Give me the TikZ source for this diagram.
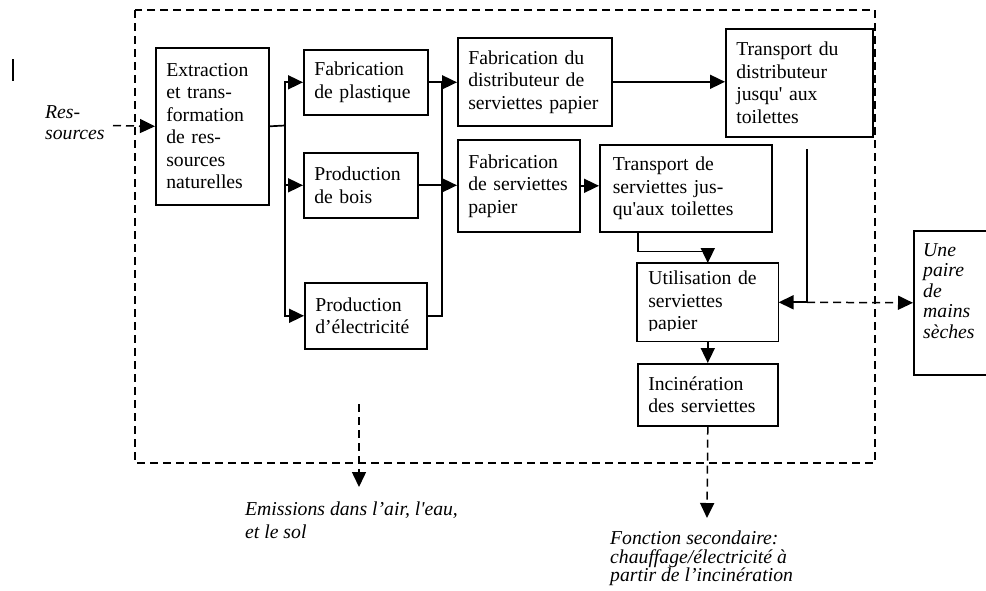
\documentclass[tikz,border=0pt]{standalone}
\usepackage{fontspec}
\newfontfamily\tnr{Liberation Serif}
\usetikzlibrary{arrows.meta}
\begin{document}
\begin{tikzpicture}[x=1pt,y=-1pt,
  every node/.style={font=\tnr\fontsize{19.7}{22.5}\selectfont},
  box/.style={draw, line width=1.6pt, anchor=north west, align=left, inner xsep=10.5pt, inner ysep=0pt},
  conn/.style={line width=1.7pt},
  arr/.style={conn, -{Triangle[length=15pt,width=14pt]}},
  dsh/.style={line width=1.5pt, dash pattern=on 8pt off 5pt},
  darr/.style={dsh, -{Triangle[length=15pt,width=14pt]}},
  lbl/.style={anchor=north west, align=left, inner sep=0pt, font=\tnr\itshape\fontsize{19.7}{23}\selectfont}]
\useasboundingbox (0,0) rectangle (986,590);
\clip (0,0) rectangle (986,590);

% boundary
\draw[dsh] (135,10) rectangle (875,463);
\draw[line width=1.8pt] (13,59) -- (13,81);

% boxes
\node[box, minimum width=113pt, minimum height=157pt, text width=92pt] (ext) at (155,47) {Extraction\\et~trans-\\formation\\de~res-\\sources\\naturelles};
\node[box, minimum width=124pt, minimum height=65pt, text width=103pt] (plast) at (303,49) {Fabrication\\de~plastique};
\node[box, minimum width=114pt, minimum height=65pt, text width=93pt] (bois) at (303,152) {Production\\de~bois};
\node[box, minimum width=122pt, minimum height=66pt, text width=101pt] (elec) at (304,282) {Production\\d’électricité};
\node[box, minimum width=154pt, minimum height=88pt, text width=133pt] (fdist) at (457,37) {Fabrication~du\\distributeur~de\\serviettes~papier};
\node[box, minimum width=122pt, minimum height=92pt, text width=101pt] (fserv) at (457,139) {Fabrication\\de~serviettes\\papier};
\node[box, minimum width=147pt, minimum height=108pt, text width=126pt] (tdist) at (725,28) {Transport~du\\distributeur\\jusqu'~aux\\toilettes};
\node[box, minimum width=172pt, minimum height=87pt, text width=146pt, inner xsep=13pt] (tserv) at (599,144) {Transport~de\\serviettes~jus-\\qu'aux~toilettes};
\begin{scope}
\clip (637,263) rectangle (777,330);
\node[box, draw=none, minimum width=140pt, minimum height=77pt, text width=119pt] (util) at (637,263) {Utilisation~de\\serviettes\\papier};
\end{scope}
\draw[line width=1.6pt] (util.north west) rectangle (util.south east);
\node[box, minimum width=140pt, minimum height=62pt, text width=119pt] (incin) at (637,363) {Incinération\\des~serviettes};
\node[draw, line width=1.6pt, anchor=north west, minimum width=100pt, minimum height=144pt, inner sep=0pt] (paire) at (913,230) {};
\node[lbl, font=\tnr\itshape\fontsize{19.7}{20.5}\selectfont] (pairetxt) at (923,243) {Une\\paire\\de\\mains\\sèches};

% connectors
\coordinate (b1) at (285,125.5);
\draw[conn] (ext.east) -- (b1);
\draw[arr] (b1) |- (plast.west);
\draw[arr] (b1) |- (elec.west);
\draw[arr] (b1 |- bois.west) -- (bois.west);

\coordinate (b2) at (442,0);
\draw[conn] (elec.east) -| (b2 |- plast.east);
\draw[arr] (plast.east) -- (plast.east -| fdist.west);
\draw[arr] (bois.east) -- (bois.east -| fserv.west);

\draw[arr] (fdist.east) -- (fdist.east -| tdist.west);
\draw[arr] (fserv.east) -- (fserv.east -| tserv.west);
\draw[arr] ([xshift=39pt]tserv.south west) -- ++(0,19) -| (util.north);
\coordinate (tdfree) at (807,149);
\draw[arr] (tdfree) |- (util.east);
\draw[darr] (tdfree |- util.east) -- (paire.west);
\draw[arr] (util.south) -- (incin.north);

% outputs
\coordinate (fsec) at (707,518);
\draw[darr] (incin.south) -- (fsec);
\node[lbl, font=\tnr\itshape\fontsize{19.7}{18.5}\selectfont] (fonct) at (610,531) {Fonction secondaire:\\chauffage/électricité à\\partir de l’incinération};

\coordinate (emtop) at (359,404);
\coordinate (emend) at (359,487);
\draw[darr] (emtop) -- (emend);
\node[lbl] (emis) at (245,502) {Emissions dans l’air, l'eau,\\et le sol};

\coordinate (resstart) at (113,125.5);
\draw[darr] (resstart) -- (ext.west);
\node[lbl, font=\tnr\itshape\fontsize{19.7}{21}\selectfont] (res) at (45,105) {Res-\\sources};
\end{tikzpicture}
\end{document}
